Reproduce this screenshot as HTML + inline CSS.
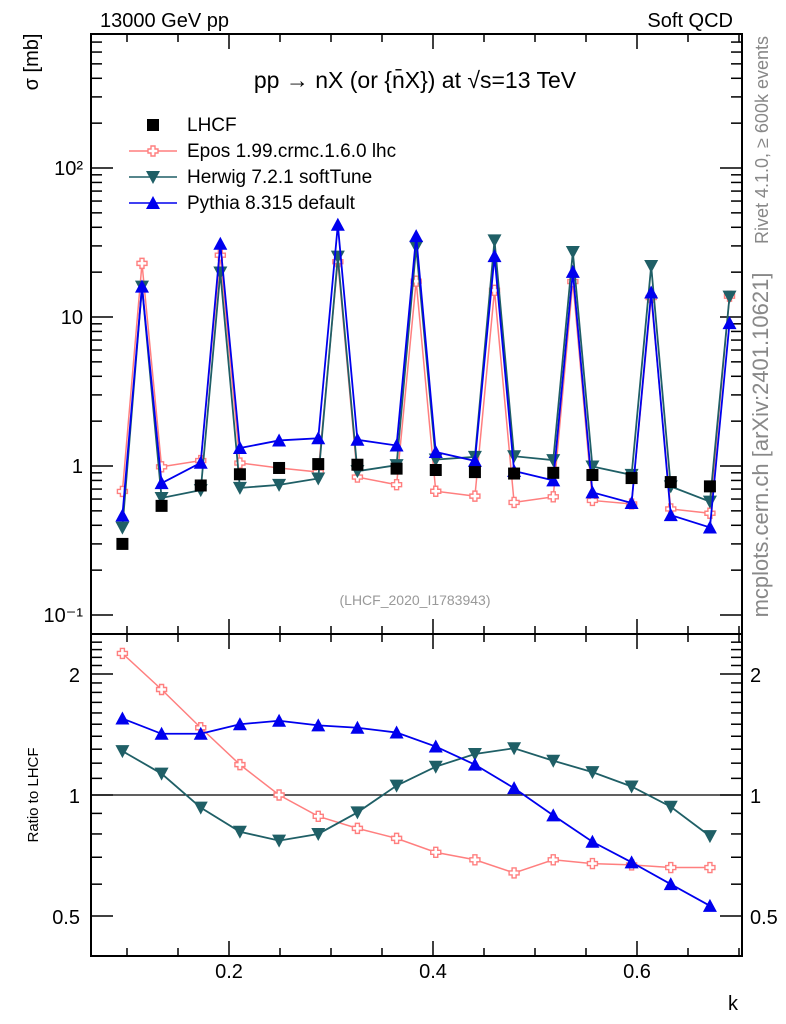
<!DOCTYPE html>
<html><head><meta charset="utf-8">
<style>
html,body{margin:0;padding:0;background:#fff;}
svg{display:block;font-family:"Liberation Sans","DejaVu Sans",sans-serif;}
</style></head>
<body>
<svg id="chart" width="786" height="1024" viewBox="0 0 786 1024" xmlns="http://www.w3.org/2000/svg">
<text x="100" y="27" font-size="20">13000 GeV pp</text>
<text x="733" y="27" font-size="20" text-anchor="end">Soft QCD</text>
<text x="415" y="88" font-size="23" text-anchor="middle">pp → nX (or {n̄X}) at √s=13 TeV</text>
<text transform="translate(768,140) rotate(-90)" font-size="18" fill="#888" text-anchor="middle">Rivet 4.1.0, ≥ 600k events</text>
<text transform="translate(768,445) rotate(-90)" font-size="22" fill="#888" text-anchor="middle">mcplots.cern.ch [arXiv:2401.10621]</text>
<text x="415" y="605" font-size="14" fill="#999" text-anchor="middle">(LHCF_2020_I1783943)</text>
<text transform="translate(38,62) rotate(-90)" font-size="20" text-anchor="middle">σ [mb]</text>
<text transform="translate(38,795) rotate(-90)" font-size="15" text-anchor="middle">Ratio to LHCF</text>
<text x="738" y="1010" font-size="20" text-anchor="end">k</text>
<g id="axes"></g>
<g id="marks"></g>
<g id="legend"></g>
</svg>
<script>
// bin index (k = 0.0955 + idx*0.0192)
const allIdx = [0,1,2,4,5,6,8,10,11,12,14,15,16,18,19,20,22,23,24,26,27,28,30,31];
const dataIdx = [0,2,4,6,8,10,12,14,16,18,20,22,24,26,28,30];
const peakIdx = [1,5,11,15,19,23,27,31];
const lhcfVals = [0.30,0.54,0.74,0.88,0.97,1.03,1.02,0.96,0.94,0.91,0.89,0.90,0.87,0.83,0.78,0.73];
const eposRatio = [2.25,1.83,1.47,1.19,1.0,0.885,0.826,0.78,0.72,0.69,0.64,0.69,0.675,0.67,0.66,0.66];
const herwigRatio = [1.286,1.13,0.93,0.81,0.77,0.80,0.905,1.055,1.176,1.265,1.307,1.217,1.14,1.05,0.935,0.79];
const pythiaRatio = [1.55,1.42,1.42,1.50,1.53,1.49,1.47,1.43,1.32,1.19,1.04,0.89,0.765,0.68,0.60,0.53];
const eposPeaks = [22.9,26,23.5,17.4,15.1,17.3,13.5,13.8];
const herwigPeaks = [16,19.9,25.4,29.6,32.7,27.3,22,13.7];
const pythiaPeaks = [16,31,41.6,34.9,25.6,20.1,14.6,9.1];
const xTicks = [0.2,0.4,0.6];
const yTickLabels = ["10⁻¹","1","10","10²"];
const ratioTicks = [0.5,1,2];

const NS="http://www.w3.org/2000/svg";
const L=91,R=742,T=34,MID=634,B=956;
const kOf=i=>0.0955+i*0.0192;
const X=k=>229+(k-0.2)*1020;
const Y=v=>466-149*Math.log10(v);
const YR=r=>795-121*Math.log2(r);
const axes=document.getElementById('axes'), marks=document.getElementById('marks'), legend=document.getElementById('legend');
function mk(tag,attrs,parent){const e=document.createElementNS(NS,tag);for(const a in attrs)e.setAttribute(a,attrs[a]);parent.appendChild(e);return e;}
function ln(x1,y1,x2,y2,p,w){return mk('line',{x1,y1,x2,y2,stroke:'#000','stroke-width':w||1.5},p);}

let f=mk('rect',{x:L,y:T,width:R-L,height:MID-T,fill:'none',stroke:'#000','stroke-width':2},axes);


f=mk('rect',{x:L,y:MID,width:R-L,height:B-MID,fill:'none',stroke:'#000','stroke-width':2},axes);



for(let k=0.1;k<0.71;k+=0.05){
  const x=X(k); const major=Math.abs(k*10-Math.round(k*10))<1e-6 && Math.round(k*10)%2===0;
  const len=major?15:8;
  [[T,1],[MID,1],[MID,-1],[B,-1]].forEach(([y0,d])=>ln(x,y0,x,y0+d*len,axes));
}
xTicks.forEach(k=>{const t=mk('text',{x:X(k),y:978,'font-size':20,'text-anchor':'middle'},axes);t.textContent=k.toFixed(1);

});

for(let e=-1;e<=2;e++){
  for(let m=1;m<10;m++){
    const v=m*Math.pow(10,e); const y=Y(v); if(y<T||y>MID)continue;
    const len=m===1?22:11;
    ln(L,y,L+len,y,axes); ln(R,y,R-len,y,axes);
  }
  const t=mk('text',{x:83,y:Y(Math.pow(10,e))+7,'font-size':20,'text-anchor':'end'},axes);
  t.textContent=yTickLabels[e+1];
  
  
}
[0.4,0.5,0.6,0.7,0.8,0.9,1,1.1,1.2,1.3,1.4,1.5,1.6,1.7,1.8,1.9,2,2.1,2.2,2.3,2.4,2.5].forEach(r=>{
  const y=YR(r); if(y<MID+2||y>B-2)return; const major=ratioTicks.includes(r); const len=major?22:11;
  ln(L,y,L+len,y,axes); ln(R,y,R-len,y,axes);
});
ratioTicks.forEach(r=>{
  let t=mk('text',{x:80,y:YR(r)+8,'font-size':20,'text-anchor':'end'},axes);t.textContent=String(r);
  
  
  t=mk('text',{x:750,y:YR(r)+8,'font-size':20},axes);t.textContent=String(r);
  
  
});
const ref=ln(L,YR(1),R,YR(1),axes,1.2);



function marker(type,x,y,color,p){
  let e;
  if(type==='sq') e=mk('rect',{x:x-6,y:y-6,width:12,height:12,fill:'#000'},p);
  else if(type==='cross') e=mk('path',{d:`M${x-2},${y-5}h4v3h3v4h-3v3h-4v-3h-3v-4h3z`,fill:'#fff',stroke:color,'stroke-width':1.4},p);
  else if(type==='down') e=mk('path',{d:`M${x-7},${y-6}L${x+7},${y-6}L${x},${y+7}z`,fill:color},p);
  else e=mk('path',{d:`M${x-7},${y+6}L${x+7},${y+6}L${x},${y-7}z`,fill:color},p);
  return e;
}
function fullSeries(ratio,peaks){
  const vals={};dataIdx.forEach((i,j)=>vals[i]=ratio[j]*lhcfVals[j]);peakIdx.forEach((i,j)=>vals[i]=peaks[j]);
  return allIdx.map(i=>[kOf(i),vals[i]]);
}
const series=[
 {name:'epos',color:'#ff7f7f',type:'cross',ratio:eposRatio,peaks:eposPeaks,w:1.5},
 {name:'herwig',color:'#1f5f66',type:'down',ratio:herwigRatio,peaks:herwigPeaks,w:1.8},
 {name:'pythia',color:'#0000ee',type:'up',ratio:pythiaRatio,peaks:pythiaPeaks,w:1.8}
];
series.forEach(s=>{
  const pts=fullSeries(s.ratio,s.peaks);
  const pl=mk('polyline',{points:pts.map(p=>X(p[0])+','+Y(p[1])).join(' '),fill:'none',stroke:s.color,'stroke-width':s.w},marks);
  
  
  pts.forEach(p=>{const m=marker(s.type,X(p[0]),Y(p[1]),s.color,marks);
    
    });
  const rp=dataIdx.map((i,j)=>[kOf(i),s.ratio[j]]);
  const rl=mk('polyline',{points:rp.map(p=>X(p[0])+','+YR(p[1])).join(' '),fill:'none',stroke:s.color,'stroke-width':s.w},marks);
  
  
  rp.forEach(p=>{const m=marker(s.type,X(p[0]),YR(p[1]),s.color,marks);
    
    });
});
dataIdx.forEach((i,j)=>{const m=marker('sq',X(kOf(i)),Y(lhcfVals[j]),'#000',marks);
  
  });

const leg=[['LHCF','sq','#000'],['Epos 1.99.crmc.1.6.0 lhc','cross','#ff7f7f'],['Herwig 7.2.1 softTune','down','#1f5f66'],['Pythia 8.315 default','up','#0000ee']];
leg.forEach((e,j)=>{
  const y=125+j*26;
  if(j>0){const l=mk('line',{x1:129,y1:y,x2:177,y2:y,stroke:e[2],'stroke-width':1.5},legend);
    
    }
  marker(e[1],153,y,e[2],legend);
  const t=mk('text',{x:187,y:y+6,'font-size':19},legend);t.textContent=e[0];
  
  
});
</script>
</body></html>
